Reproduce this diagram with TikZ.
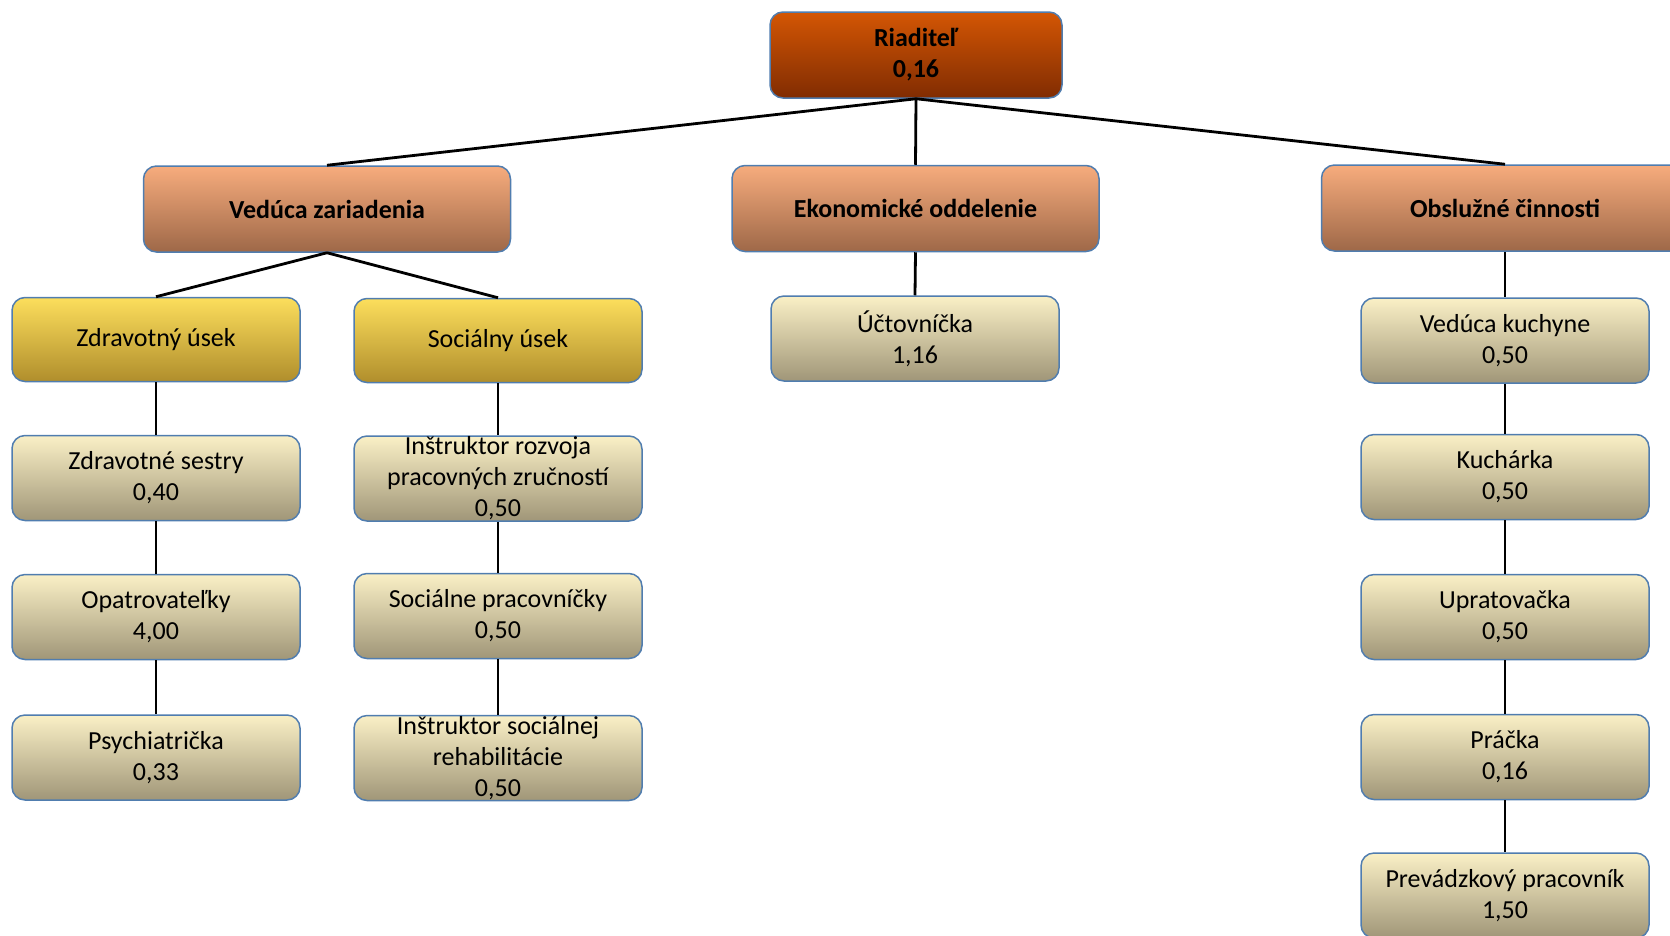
\documentclass[tikz,border=0pt]{standalone}
\usepackage{fontspec}
\setmainfont{Carlito}
\definecolor{bordc}{RGB}{80,125,175}
\definecolor{rtop}{RGB}{212,86,4}
\definecolor{rbot}{RGB}{128,44,2}
\definecolor{otop}{RGB}{247,172,125}
\definecolor{obot}{RGB}{158,104,72}
\definecolor{ytop}{RGB}{252,222,92}
\definecolor{ybot}{RGB}{176,142,44}
\definecolor{btop}{RGB}{250,240,198}
\definecolor{bbot}{RGB}{160,150,120}
\tikzset{
  base/.style={draw=bordc, line width=1.5pt, rounded corners=13pt, align=center, inner sep=0pt,
    font=\fontsize{26}{31}\selectfont, text=black},
  topbox/.style={base, top color=rtop, bottom color=rbot, minimum width=292pt, minimum height=86pt, font=\fontsize{26}{31}\selectfont\bfseries},
  deptbox/.style={base, top color=otop, bottom color=obot, minimum width=367pt, minimum height=86pt, font=\fontsize{26}{31}\selectfont\bfseries},
  secbox/.style={base, top color=ytop, bottom color=ybot, minimum width=288pt, minimum height=84pt},
  staffbox/.style={base, top color=btop, bottom color=bbot, minimum width=288pt, minimum height=85pt},
  conn/.style={line width=2.8pt, black}
}
\begin{document}
\begin{tikzpicture}[x=1pt, y=-1pt]
\useasboundingbox (0,0) rectangle (1670,935);
\node[topbox] (rd) at (916,55) {Riaditeľ\\0,16};
\node[deptbox] (vz) at (327,209) {Vedúca zariadenia};
\node[deptbox] (eo) at (915.5,208.5) {Ekonomické oddelenie};
\node[deptbox] (oc) at (1505,208) {Obslužné činnosti};
\node[secbox] (zu) at (156,339.5) {Zdravotný úsek};
\node[secbox] (su) at (498,340.5) {Sociálny úsek};
\node[staffbox] (uc) at (915,338.5) {Účtovníčka\\1,16};
\node[staffbox] (vk) at (1505,340.5) {Vedúca kuchyne\\0,50};
\node[staffbox] (zs) at (156,478) {Zdravotné sestry\\0,40};
\node[staffbox] (op) at (156,617) {Opatrovateľky\\4,00};
\node[staffbox] (ps) at (156,757.5) {Psychiatrička\\0,33};
\node[staffbox] (ir) at (498,478.5) {Inštruktor rozvoja\\pracovných zručností\\0,50};
\node[staffbox] (sp) at (498,616) {Sociálne pracovníčky\\0,50};
\node[staffbox] (is) at (498,758) {Inštruktor sociálnej\\rehabilitácie\\0,50};
\node[staffbox] (ku) at (1505,477) {Kuchárka\\0,50};
\node[staffbox] (up) at (1505,617) {Upratovačka\\0,50};
\node[staffbox] (pr) at (1505,757) {Práčka\\0,16};
\node[staffbox] (pp) at (1505,895.5) {Prevádzkový pracovník\\1,50};
\draw[conn] (rd.south) -- (vz.north);
\draw[conn] (rd.south) -- (eo.north);
\draw[conn] (rd.south) -- (oc.north);
\draw[conn] (vz.south) -- (zu.north);
\draw[conn] (vz.south) -- (su.north);
\draw[conn] (eo.south) -- (uc.north);
\draw[conn] (oc.south) -- (vk.north);
\draw[conn] (zu.south) -- (zs.north);
\draw[conn] (zs.south) -- (op.north);
\draw[conn] (op.south) -- (ps.north);
\draw[conn] (su.south) -- (ir.north);
\draw[conn] (ir.south) -- (sp.north);
\draw[conn] (sp.south) -- (is.north);
\draw[conn] (vk.south) -- (ku.north);
\draw[conn] (ku.south) -- (up.north);
\draw[conn] (up.south) -- (pr.north);
\draw[conn] (pr.south) -- (pp.north);
\end{tikzpicture}
\end{document}
